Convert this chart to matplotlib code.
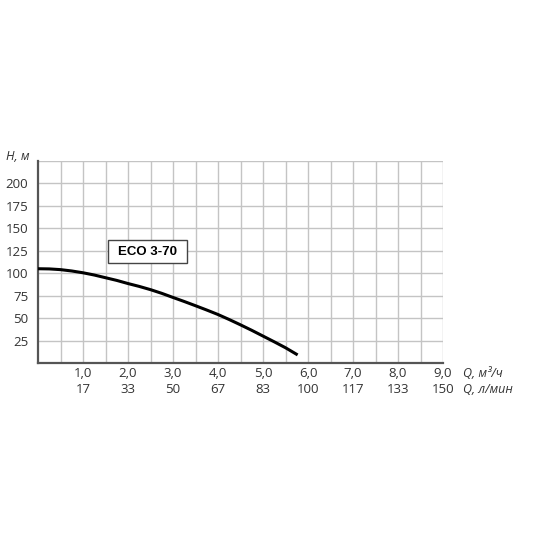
import numpy as np
import matplotlib.pyplot as plt
from matplotlib.patches import Rectangle
from matplotlib.transforms import blended_transform_factory

plt.rcParams['font.family'] = ['Open Sans', 'DejaVu Sans']

# pump curve ECO 3-70
q_curve = [0, 0.25, 0.5, 0.75, 1.0, 1.25, 1.5, 1.75, 2.0, 2.25, 2.5, 2.75, 3.0,
           3.25, 3.5, 3.75, 4.0, 4.25, 4.5, 4.75, 5.0, 5.25, 5.5, 5.77]
h_curve = [105, 104.8, 104, 102.5, 100.5, 98, 95, 92, 88.5, 85.3, 81.7, 77.6, 73,
           68.5, 63.8, 59, 54, 48.4, 42.5, 36.4, 30, 23.6, 17, 9]

q_ticks = [1, 2, 3, 4, 5, 6, 7, 8, 9]
q_labels = ['1,0', '2,0', '3,0', '4,0', '5,0', '6,0', '7,0', '8,0', '9,0']
lmin_labels = ['17', '33', '50', '67', '83', '100', '117', '133', '150']
h_ticks = [25, 50, 75, 100, 125, 150, 175, 200]

fig = plt.figure(figsize=(5.5, 5.5), dpi=100)
ax = fig.add_axes([38 / 550, 1 - 363 / 550, 405 / 550, 202 / 550])

ax.set_xlim(0, 9)
ax.set_ylim(0, 225)

grid_c = '#c4c4c4'
for x in np.arange(0.5, 9.01, 0.5):
    ax.axvline(x, color=grid_c, lw=1, zorder=1)
for y in np.arange(25, 226, 25):
    ax.axhline(y, color=grid_c, lw=1, zorder=1)

for s in ['top', 'right']:
    ax.spines[s].set_visible(False)
ax.spines['left'].set_color('#555555')
ax.spines['left'].set_linewidth(1.6)
ax.spines['bottom'].set_color('#555555')
ax.spines['bottom'].set_linewidth(1.6)

ax.plot(q_curve, h_curve, color='black', lw=2.2, zorder=3,
        solid_joinstyle='round', solid_capstyle='butt')

ax.set_yticks(h_ticks)
ax.set_yticklabels([str(v) for v in h_ticks])
ax.set_xticks([])
ax.tick_params(axis='y', length=0, pad=7, labelsize=9.5, labelcolor='#333333')

tr = blended_transform_factory(ax.transData, ax.transAxes)
for q, a, b in zip(q_ticks, q_labels, lmin_labels):
    ax.text(q, -0.05, a, transform=tr, ha='center', va='center', fontsize=9.5, color='#333333')
    ax.text(q, -0.13, b, transform=tr, ha='center', va='center', fontsize=9.5, color='#333333')
ax.text(9.45, -0.05, 'Q, м³/ч', transform=tr, ha='left', va='center', fontsize=9,
        style='italic', color='#333333')
ax.text(9.45, -0.13, 'Q, л/мин', transform=tr, ha='left', va='center', fontsize=9,
        style='italic', color='#333333')
ax.text(-0.02, 1.02, 'H, м', transform=ax.transAxes, ha='right', va='center', fontsize=9,
        style='italic', color='#333333')

# label box
ax.add_patch(Rectangle((1.56, 111), 1.75, 25.5, fc='white', ec='#444444', lw=1, zorder=4))
ax.text(2.43, 124, 'ECO 3-70', ha='center', va='center', fontsize=9.5, fontweight='bold',
        family=['Liberation Sans', 'DejaVu Sans'], zorder=5)

fig.savefig('out.png', dpi=100)
